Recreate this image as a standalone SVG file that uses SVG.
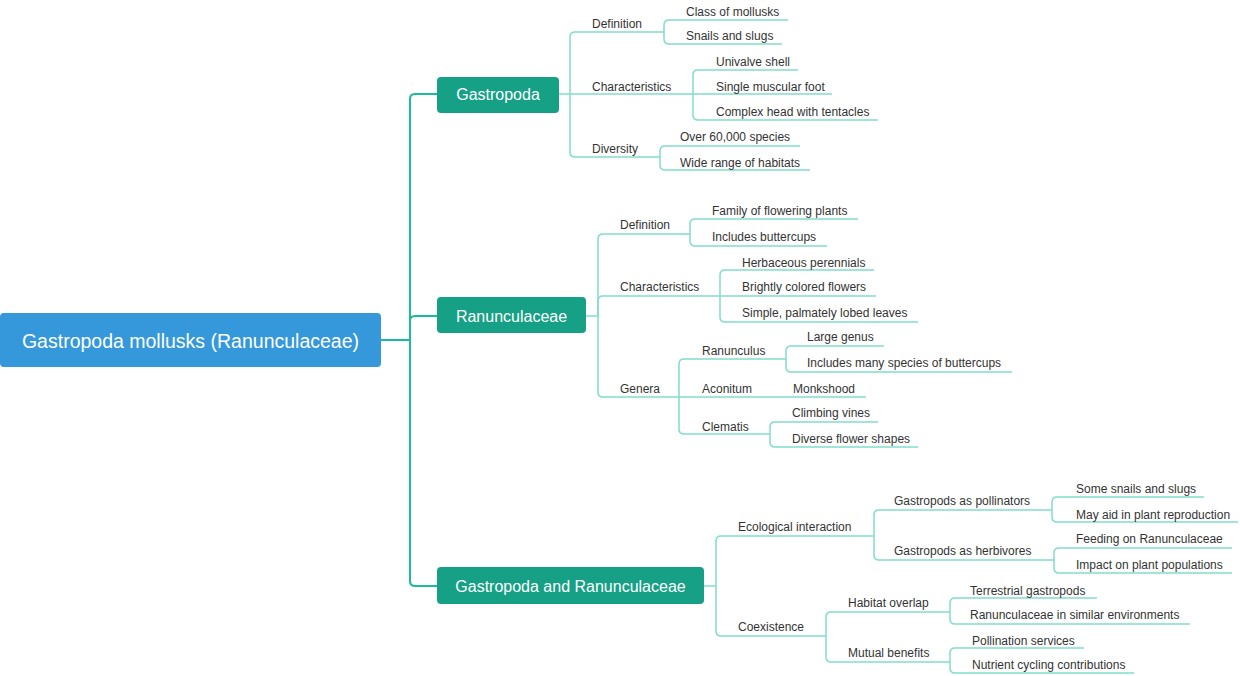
<svg xmlns="http://www.w3.org/2000/svg" width="1240" height="676" viewBox="0 0 1240 676">
<style>
.main{fill:none;stroke:#1abc9c;stroke-width:2}
.sub{fill:none;stroke:#82dccb;stroke-width:1.5}
.t{font-family:"Liberation Sans",Arial,sans-serif;font-size:12px;fill:#333}
.nt{font-family:"Liberation Sans",Arial,sans-serif;font-size:16px;fill:#fff;text-anchor:middle}
.rt{font-family:"Liberation Sans",Arial,sans-serif;font-size:19.5px;fill:#fff;text-anchor:middle}
.node{fill:#16a085}
</style>
<rect width="1240" height="676" fill="#fff"/>
<g id="connectors">
<path class="main" d="M380,340 H410 V99 Q410,94 415,94 H437"/>
<path class="main" d="M410,340 V321 Q410,316 415,316 H437"/>
<path class="main" d="M410,340 V581 Q410,586 415,586 H437"/>
<path class="sub" d="M558,94 H693"/>
<path class="sub" d="M570,94 V37 Q570,32 575,32 H664"/>
<path class="sub" d="M570,94 V152 Q570,157 575,157 H660"/>
<path class="sub" d="M664,32 V25 Q664,20 669,20 H788"/>
<path class="sub" d="M664,32 V39 Q664,44 669,44 H782"/>
<path class="sub" d="M693,94 H832"/>
<path class="sub" d="M693,94 V75 Q693,70 698,70 H798"/>
<path class="sub" d="M693,94 V115 Q693,120 698,120 H878"/>
<path class="sub" d="M660,157 V151 Q660,146 665,146 H800"/>
<path class="sub" d="M660,157 V165 Q660,170 665,170 H810"/>
<path class="sub" d="M586,316 H598"/>
<path class="sub" d="M598,316 V239 Q598,234 603,234 H690"/>
<path class="sub" d="M598,316 V301 Q598,296 603,296 H720"/>
<path class="sub" d="M598,316 V392 Q598,397 603,397 H679"/>
<path class="sub" d="M690,234 V224 Q690,219 695,219 H858"/>
<path class="sub" d="M690,234 V241 Q690,246 695,246 H827"/>
<path class="sub" d="M720,296 H876"/>
<path class="sub" d="M720,296 V275 Q720,270 725,270 H874"/>
<path class="sub" d="M720,296 V317 Q720,322 725,322 H918"/>
<path class="sub" d="M679,397 H866"/>
<path class="sub" d="M679,397 V364 Q679,359 684,359 H786"/>
<path class="sub" d="M679,397 V429 Q679,434 684,434 H770"/>
<path class="sub" d="M786,359 V351 Q786,346 791,346 H884"/>
<path class="sub" d="M786,359 V367 Q786,372 791,372 H1012"/>
<path class="sub" d="M770,434 V427 Q770,422 775,422 H878"/>
<path class="sub" d="M770,434 V442 Q770,447 775,447 H918"/>
<path class="sub" d="M704,586 H716"/>
<path class="sub" d="M716,586 V541 Q716,536 721,536 H874"/>
<path class="sub" d="M716,586 V631 Q716,636 721,636 H826"/>
<path class="sub" d="M874,536 V515 Q874,510 879,510 H1052"/>
<path class="sub" d="M874,536 V555 Q874,560 879,560 H1054"/>
<path class="sub" d="M1052,510 V502 Q1052,497 1057,497 H1204"/>
<path class="sub" d="M1052,510 V517 Q1052,522 1057,522 H1238"/>
<path class="sub" d="M1054,560 V553 Q1054,548 1059,548 H1232"/>
<path class="sub" d="M1054,560 V568 Q1054,573 1059,573 H1232"/>
<path class="sub" d="M826,636 V617 Q826,612 831,612 H950"/>
<path class="sub" d="M826,636 V657 Q826,662 831,662 H950"/>
<path class="sub" d="M950,612 V603 Q950,598 955,598 H1097"/>
<path class="sub" d="M950,612 V619 Q950,624 955,624 H1190"/>
<path class="sub" d="M950,662 V653 Q950,648 955,648 H1084"/>
<path class="sub" d="M950,662 V668 Q950,673 955,673 H1134"/>
</g>
<g id="root">
<rect x="0" y="313" width="381" height="54" rx="4" fill="#3498db"/>
<text class="rt" x="190.5" y="348">Gastropoda mollusks (Ranunculaceae)</text>
</g>
<g id="gastropoda">
<rect class="node" x="437" y="77" width="122" height="36" rx="4"/>
<text class="nt" x="498" y="100">Gastropoda</text>
</g>
<g id="ranunculaceae">
<rect class="node" x="437" y="297" width="149" height="36" rx="4"/>
<text class="nt" x="511.5" y="322">Ranunculaceae</text>
</g>
<g id="gastropoda-and-ranunculaceae">
<rect class="node" x="437" y="567" width="267" height="37" rx="4"/>
<text class="nt" x="570.5" y="592">Gastropoda and Ranunculaceae</text>
</g>
<g id="g-definition"><text class="t" x="592" y="28">Definition</text></g>
<g id="g-characteristics"><text class="t" x="592" y="91">Characteristics</text></g>
<g id="g-diversity"><text class="t" x="592" y="153">Diversity</text></g>
<g id="g-class"><text class="t" x="686" y="16">Class of mollusks</text></g>
<g id="g-snails"><text class="t" x="686" y="40">Snails and slugs</text></g>
<g id="g-univalve"><text class="t" x="716" y="66">Univalve shell</text></g>
<g id="g-foot"><text class="t" x="716" y="91">Single muscular foot</text></g>
<g id="g-head"><text class="t" x="716" y="116">Complex head with tentacles</text></g>
<g id="g-species"><text class="t" x="680" y="141">Over 60,000 species</text></g>
<g id="g-habitats"><text class="t" x="680" y="167">Wide range of habitats</text></g>
<g id="r-definition"><text class="t" x="620" y="229">Definition</text></g>
<g id="r-characteristics"><text class="t" x="620" y="291">Characteristics</text></g>
<g id="r-genera"><text class="t" x="620" y="393">Genera</text></g>
<g id="r-family"><text class="t" x="712" y="215">Family of flowering plants</text></g>
<g id="r-buttercups"><text class="t" x="712" y="241">Includes buttercups</text></g>
<g id="r-herbaceous"><text class="t" x="742" y="267">Herbaceous perennials</text></g>
<g id="r-brightly"><text class="t" x="742" y="291">Brightly colored flowers</text></g>
<g id="r-simple"><text class="t" x="742" y="317">Simple, palmately lobed leaves</text></g>
<g id="r-ranunculus"><text class="t" x="702" y="355">Ranunculus</text></g>
<g id="r-aconitum"><text class="t" x="702" y="393">Aconitum</text></g>
<g id="r-clematis"><text class="t" x="702" y="431">Clematis</text></g>
<g id="r-large"><text class="t" x="807" y="341">Large genus</text></g>
<g id="r-many"><text class="t" x="807" y="367">Includes many species of buttercups</text></g>
<g id="r-monkshood"><text class="t" x="793" y="393">Monkshood</text></g>
<g id="r-climbing"><text class="t" x="792" y="417">Climbing vines</text></g>
<g id="r-diverse"><text class="t" x="792" y="443">Diverse flower shapes</text></g>
<g id="b-ecological"><text class="t" x="738" y="531">Ecological interaction</text></g>
<g id="b-coexistence"><text class="t" x="738" y="631">Coexistence</text></g>
<g id="b-pollinators"><text class="t" x="894" y="505">Gastropods as pollinators</text></g>
<g id="b-herbivores"><text class="t" x="894" y="555">Gastropods as herbivores</text></g>
<g id="b-some"><text class="t" x="1076" y="493">Some snails and slugs</text></g>
<g id="b-aid"><text class="t" x="1076" y="519">May aid in plant reproduction</text></g>
<g id="b-feeding"><text class="t" x="1076" y="543">Feeding on Ranunculaceae</text></g>
<g id="b-impact"><text class="t" x="1076" y="569">Impact on plant populations</text></g>
<g id="b-habitat"><text class="t" x="848" y="607">Habitat overlap</text></g>
<g id="b-mutual"><text class="t" x="848" y="657">Mutual benefits</text></g>
<g id="b-terrestrial"><text class="t" x="970" y="595">Terrestrial gastropods</text></g>
<g id="b-similar"><text class="t" x="970" y="619">Ranunculaceae in similar environments</text></g>
<g id="b-pollination"><text class="t" x="972" y="645">Pollination services</text></g>
<g id="b-nutrient"><text class="t" x="972" y="669">Nutrient cycling contributions</text></g>
</svg>
